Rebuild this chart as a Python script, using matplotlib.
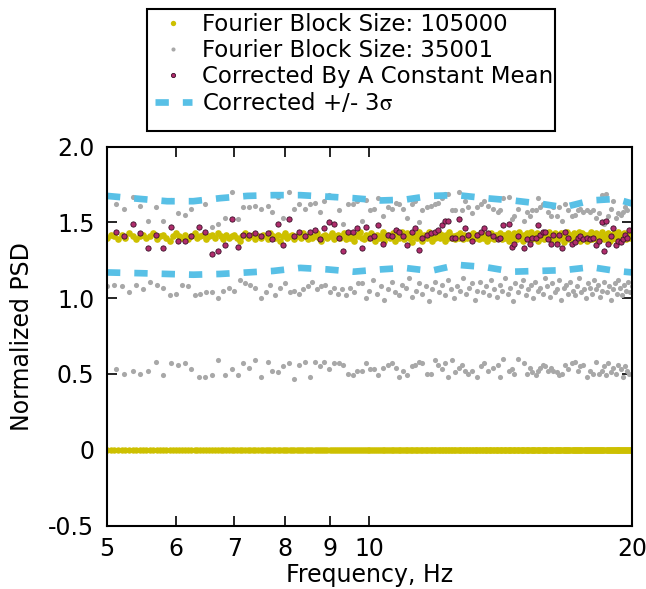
import matplotlib
matplotlib.use('Agg')
import matplotlib.pyplot as plt
from matplotlib.patches import Rectangle

plt.rcParams['font.family'] = ['DejaVu Sans']
plt.rcParams['mathtext.fontset'] = 'stix'

# frequency grid (Hz) of the 105000 block series
freq_y = [5.00, 5.05, 5.10, 5.15, 5.20, 5.25, 5.30, 5.35, 5.40, 5.45,
          5.50, 5.55, 5.60, 5.65, 5.70, 5.75, 5.80, 5.85, 5.90, 5.95,
          6.00, 6.05, 6.10, 6.15, 6.20, 6.25, 6.30, 6.35, 6.40, 6.45,
          6.50, 6.55, 6.60, 6.65, 6.70, 6.75, 6.80, 6.85, 6.90, 6.95,
          7.00, 7.05, 7.10, 7.15, 7.20, 7.25, 7.30, 7.35, 7.40, 7.45,
          7.50, 7.55, 7.60, 7.65, 7.70, 7.75, 7.80, 7.85, 7.90, 7.95,
          8.00, 8.05, 8.10, 8.15, 8.20, 8.25, 8.30, 8.35, 8.40, 8.45,
          8.50, 8.55, 8.60, 8.65, 8.70, 8.75, 8.80, 8.85, 8.90, 8.95,
          9.00, 9.05, 9.10, 9.15, 9.20, 9.25, 9.30, 9.35, 9.40, 9.45,
          9.50, 9.55, 9.60, 9.65, 9.70, 9.75, 9.80, 9.85, 9.90, 9.95,
          10.00, 10.05, 10.10, 10.15, 10.20, 10.25, 10.30, 10.35, 10.40, 10.45,
          10.50, 10.55, 10.60, 10.65, 10.70, 10.75, 10.80, 10.85, 10.90, 10.95,
          11.00, 11.05, 11.10, 11.15, 11.20, 11.25, 11.30, 11.35, 11.40, 11.45,
          11.50, 11.55, 11.60, 11.65, 11.70, 11.75, 11.80, 11.85, 11.90, 11.95,
          12.00, 12.05, 12.10, 12.15, 12.20, 12.25, 12.30, 12.35, 12.40, 12.45,
          12.50, 12.55, 12.60, 12.65, 12.70, 12.75, 12.80, 12.85, 12.90, 12.95,
          13.00, 13.05, 13.10, 13.15, 13.20, 13.25, 13.30, 13.35, 13.40, 13.45,
          13.50, 13.55, 13.60, 13.65, 13.70, 13.75, 13.80, 13.85, 13.90, 13.95,
          14.00, 14.05, 14.10, 14.15, 14.20, 14.25, 14.30, 14.35, 14.40, 14.45,
          14.50, 14.55, 14.60, 14.65, 14.70, 14.75, 14.80, 14.85, 14.90, 14.95,
          15.00, 15.05, 15.10, 15.15, 15.20, 15.25, 15.30, 15.35, 15.40, 15.45,
          15.50, 15.55, 15.60, 15.65, 15.70, 15.75, 15.80, 15.85, 15.90, 15.95,
          16.00, 16.05, 16.10, 16.15, 16.20, 16.25, 16.30, 16.35, 16.40, 16.45,
          16.50, 16.55, 16.60, 16.65, 16.70, 16.75, 16.80, 16.85, 16.90, 16.95,
          17.00, 17.05, 17.10, 17.15, 17.20, 17.25, 17.30, 17.35, 17.40, 17.45,
          17.50, 17.55, 17.60, 17.65, 17.70, 17.75, 17.80, 17.85, 17.90, 17.95,
          18.00, 18.05, 18.10, 18.15, 18.20, 18.25, 18.30, 18.35, 18.40, 18.45,
          18.50, 18.55, 18.60, 18.65, 18.70, 18.75, 18.80, 18.85, 18.90, 18.95,
          19.00, 19.05, 19.10, 19.15, 19.20, 19.25, 19.30, 19.35, 19.40, 19.45,
          19.50, 19.55, 19.60, 19.65, 19.70, 19.75, 19.80, 19.85, 19.90, 19.95,
          20.00]

# block size 105000: upper band and zero band
yellow_hi = [1.40, 1.42, 1.41, 1.39, 1.42, 1.40, 1.43, 1.41, 1.39, 1.41,
             1.42, 1.40, 1.41, 1.43, 1.39, 1.41, 1.42, 1.40, 1.38, 1.41,
             1.43, 1.41, 1.40, 1.42, 1.39, 1.41, 1.43, 1.40, 1.41, 1.42,
             1.39, 1.41, 1.42, 1.40, 1.43, 1.41, 1.39, 1.42, 1.40, 1.41,
             1.42, 1.40, 1.38, 1.41, 1.43, 1.40, 1.41, 1.42, 1.39, 1.41,
             1.40, 1.42, 1.41, 1.39, 1.43, 1.41, 1.40, 1.42, 1.38, 1.41,
             1.43, 1.40, 1.41, 1.42, 1.39, 1.41, 1.42, 1.40, 1.43, 1.41,
             1.39, 1.42, 1.40, 1.41, 1.43, 1.40, 1.38, 1.41, 1.42, 1.40,
             1.41, 1.43, 1.39, 1.41, 1.42, 1.40, 1.41, 1.43, 1.39, 1.42,
             1.40, 1.41, 1.38, 1.42, 1.41, 1.44, 1.40, 1.39, 1.42, 1.41,
             1.40, 1.43, 1.41, 1.38, 1.42, 1.40, 1.41, 1.44, 1.38, 1.41,
             1.42, 1.40, 1.41, 1.43, 1.38, 1.42, 1.40, 1.41, 1.44, 1.39,
             1.41, 1.43, 1.40, 1.42, 1.37, 1.41, 1.42, 1.40, 1.44, 1.41,
             1.38, 1.42, 1.41, 1.40, 1.44, 1.41, 1.38, 1.42, 1.40, 1.41,
             1.43, 1.40, 1.42, 1.41, 1.38, 1.42, 1.40, 1.44, 1.41, 1.40,
             1.41, 1.39, 1.42, 1.40, 1.43, 1.41, 1.39, 1.42, 1.41, 1.40,
             1.42, 1.41, 1.39, 1.43, 1.40, 1.41, 1.42, 1.39, 1.41, 1.43,
             1.40, 1.42, 1.41, 1.38, 1.42, 1.40, 1.43, 1.41, 1.39, 1.42,
             1.41, 1.40, 1.43, 1.41, 1.39, 1.42, 1.40, 1.41, 1.43, 1.38,
             1.42, 1.41, 1.40, 1.43, 1.41, 1.39, 1.42, 1.44, 1.40, 1.41,
             1.38, 1.42, 1.41, 1.43, 1.40, 1.41, 1.44, 1.39, 1.42, 1.40,
             1.41, 1.43, 1.38, 1.42, 1.40, 1.41, 1.43, 1.39, 1.42, 1.41,
             1.40, 1.44, 1.41, 1.39, 1.42, 1.40, 1.43, 1.41, 1.38, 1.42,
             1.41, 1.40, 1.43, 1.41, 1.37, 1.42, 1.40, 1.44, 1.41, 1.39,
             1.42, 1.41, 1.40, 1.43, 1.39, 1.41, 1.42, 1.40, 1.44, 1.38,
             1.41, 1.43, 1.40, 1.42, 1.41, 1.38, 1.42, 1.41, 1.40, 1.44,
             1.39, 1.41, 1.42, 1.40, 1.43, 1.41, 1.38, 1.42, 1.41, 1.40,
             1.44, 1.41, 1.39, 1.42, 1.40, 1.43, 1.41, 1.38, 1.42, 1.41,
             1.40, 1.43, 1.41, 1.39, 1.42, 1.44, 1.40, 1.41, 1.38, 1.42,
             1.41, 1.40, 1.43, 1.41, 1.39, 1.42, 1.40, 1.44, 1.41, 1.40,
             1.42]
yellow_zero = [0.0] * len(freq_y)

# block size 35001: middle band on a 0.1 Hz grid
freq_a = [5.0, 5.1, 5.2, 5.3, 5.4, 5.5, 5.6, 5.7, 5.8, 5.9,
          6.0, 6.1, 6.2, 6.3, 6.4, 6.5, 6.6, 6.7, 6.8, 6.9,
          7.0, 7.1, 7.2, 7.3, 7.4, 7.5, 7.6, 7.7, 7.8, 7.9,
          8.0, 8.1, 8.2, 8.3, 8.4, 8.5, 8.6, 8.7, 8.8, 8.9,
          9.0, 9.1, 9.2, 9.3, 9.4, 9.5, 9.6, 9.7, 9.8, 9.9,
          10.0, 10.1, 10.2, 10.3, 10.4, 10.5, 10.6, 10.7, 10.8, 10.9,
          11.0, 11.1, 11.2, 11.3, 11.4, 11.5, 11.6, 11.7, 11.8, 11.9,
          12.0, 12.1, 12.2, 12.3, 12.4, 12.5, 12.6, 12.7, 12.8, 12.9,
          13.0, 13.1, 13.2, 13.3, 13.4, 13.5, 13.6, 13.7, 13.8, 13.9,
          14.0, 14.1, 14.2, 14.3, 14.4, 14.5, 14.6, 14.7, 14.8, 14.9,
          15.0, 15.1, 15.2, 15.3, 15.4, 15.5, 15.6, 15.7, 15.8, 15.9,
          16.0, 16.1, 16.2, 16.3, 16.4, 16.5, 16.6, 16.7, 16.8, 16.9,
          17.0, 17.1, 17.2, 17.3, 17.4, 17.5, 17.6, 17.7, 17.8, 17.9,
          18.0, 18.1, 18.2, 18.3, 18.4, 18.5, 18.6, 18.7, 18.8, 18.9,
          19.0, 19.1, 19.2, 19.3, 19.4, 19.5, 19.6, 19.7, 19.8, 19.9,
          20.0]

gray_mid = [1.08, 1.09, 1.08, 1.04, 1.09, 1.06, 1.11, 1.09, 1.07, 1.02,
            1.03, 1.09, 1.08, 1.02, 1.03, 1.04, 1.04, 1.00, 1.05, 1.07,
            1.05, 1.12, 1.10, 1.09, 1.07, 1.00, 1.04, 1.09, 1.02, 1.07,
            1.10, 1.04, 1.05, 1.03, 1.06, 1.08, 1.11, 1.06, 1.08, 1.09,
            1.04, 1.07, 1.03, 1.06, 1.02, 1.07, 1.04, 1.10, 1.10, 1.00,
            1.05, 1.12, 1.03, 1.08, 0.99, 1.06, 1.11, 1.04, 1.02, 1.09,
            1.07, 1.13, 1.01, 1.05, 1.10, 1.03, 1.08, 0.98, 1.06, 1.11,
            1.04, 1.09, 1.02, 1.12, 1.06, 1.00, 1.08, 1.05, 1.13, 1.03,
            1.07, 1.10, 0.99, 1.05, 1.11, 1.04, 1.08, 1.02, 1.12, 1.06,
            1.01, 1.09, 1.05, 1.13, 1.03, 1.07, 0.98, 1.10, 1.04, 1.08,
            1.12, 1.02, 1.06, 1.09, 1.00, 1.11, 1.05, 1.07, 1.03, 1.13,
            1.08, 1.01, 1.10, 1.04, 1.06, 1.12, 0.99, 1.07, 1.09, 1.03,
            1.11, 1.05, 1.02, 1.08, 1.13, 1.04, 1.06, 1.00, 1.10, 1.07,
            1.03, 1.12, 1.06, 1.09, 1.01, 1.05, 1.11, 1.04, 1.08, 0.99,
            1.06, 1.10, 1.03, 1.12, 1.07, 1.02, 1.09, 1.05, 1.11, 1.04,
            1.08]

# frequencies of the corrected points (also upper/lower 35001 bands)
freq_c = [5.12, 5.23, 5.35, 5.46, 5.57, 5.69, 5.80, 5.92, 6.03, 6.14,
          6.25, 6.37, 6.48, 6.59, 6.71, 6.83, 6.95, 7.07, 7.17, 7.28,
          7.39, 7.51, 7.64, 7.74, 7.85, 7.96, 8.08, 8.20, 8.31, 8.43,
          8.55, 8.66, 8.77, 8.88, 8.99, 9.11, 9.23, 9.33, 9.46, 9.58,
          9.68, 9.80, 9.90, 10.01, 10.13, 10.24, 10.37, 10.49, 10.60, 10.73,
          10.82, 10.93, 11.05, 11.18, 11.28, 11.41, 11.50, 11.63, 11.76, 11.89,
          11.97, 12.10, 12.21, 12.29, 12.42, 12.53, 12.68, 12.76, 12.87, 12.98,
          13.10, 13.27, 13.41, 13.54, 13.69, 13.87, 14.03, 14.12, 14.24, 14.45,
          14.56, 14.66, 14.81, 15.05, 15.15, 15.28, 15.37, 15.51, 15.62, 15.69,
          15.82, 15.90, 16.03, 16.15, 16.25, 16.39, 16.49, 16.61, 16.76, 16.88,
          17.06, 17.21, 17.33, 17.45, 17.59, 17.75, 17.90, 18.03, 18.19, 18.35,
          18.46, 18.59, 18.67, 18.79, 18.92, 19.04, 19.16, 19.29, 19.43, 19.55,
          19.63, 19.72, 19.84]

gray_up = [1.62, 1.59, 1.67, 1.61, 1.51, 1.60, 1.51, 1.65, 1.56, 1.55,
           1.59, 1.65, 1.62, 1.47, 1.49, 1.53, 1.70, 1.52, 1.60, 1.60,
           1.61, 1.59, 1.61, 1.57, 1.67, 1.53, 1.70, 1.59, 1.62, 1.59,
           1.62, 1.63, 1.57, 1.64, 1.68, 1.67, 1.58, 1.49, 1.62, 1.62,
           1.64, 1.51, 1.65, 1.58, 1.59, 1.66, 1.54, 1.60, 1.59, 1.63,
           1.62, 1.59, 1.53, 1.62, 1.64, 1.50, 1.58, 1.60, 1.61, 1.62,
           1.63, 1.66, 1.69, 1.69, 1.58, 1.58, 1.70, 1.58, 1.64, 1.60,
           1.56, 1.60, 1.62, 1.64, 1.61, 1.59, 1.57, 1.58, 1.66, 1.67,
           1.52, 1.54, 1.59, 1.51, 1.57, 1.54, 1.58, 1.58, 1.66, 1.60,
           1.62, 1.62, 1.57, 1.54, 1.60, 1.54, 1.60, 1.51, 1.62, 1.58,
           1.54, 1.55, 1.58, 1.59, 1.57, 1.58, 1.57, 1.58, 1.53, 1.56,
           1.68, 1.49, 1.69, 1.54, 1.59, 1.64, 1.53, 1.56, 1.55, 1.57,
           1.60, 1.58, 1.63]

gray_low = [0.53, 0.50, 0.52, 0.50, 0.52, 0.58, 0.49, 0.57, 0.56, 0.57,
            0.53, 0.48, 0.48, 0.49, 0.59, 0.49, 0.53, 0.49, 0.57, 0.54,
            0.59, 0.48, 0.58, 0.52, 0.51, 0.55, 0.57, 0.47, 0.56, 0.58,
            0.48, 0.58, 0.55, 0.58, 0.53, 0.57, 0.57, 0.56, 0.50, 0.49,
            0.52, 0.52, 0.57, 0.53, 0.53, 0.49, 0.54, 0.56, 0.57, 0.54,
            0.48, 0.52, 0.49, 0.55, 0.56, 0.58, 0.57, 0.50, 0.50, 0.59,
            0.56, 0.53, 0.57, 0.48, 0.59, 0.51, 0.54, 0.56, 0.52, 0.50,
            0.52, 0.48, 0.55, 0.57, 0.52, 0.54, 0.56, 0.48, 0.60, 0.52,
            0.53, 0.50, 0.60, 0.57, 0.50, 0.54, 0.51, 0.49, 0.52, 0.54,
            0.56, 0.55, 0.52, 0.54, 0.52, 0.51, 0.49, 0.50, 0.56, 0.53,
            0.57, 0.58, 0.52, 0.55, 0.56, 0.48, 0.52, 0.50, 0.58, 0.50,
            0.52, 0.55, 0.49, 0.57, 0.51, 0.54, 0.50, 0.56, 0.53, 0.48,
            0.55, 0.52, 0.50]

purple = [1.44, 1.41, 1.49, 1.43, 1.33, 1.42, 1.33, 1.47, 1.38, 1.38,
          1.41, 1.47, 1.44, 1.29, 1.31, 1.35, 1.52, 1.34, 1.42, 1.42,
          1.43, 1.41, 1.43, 1.39, 1.49, 1.35, 1.52, 1.41, 1.44, 1.41,
          1.44, 1.45, 1.39, 1.46, 1.50, 1.49, 1.40, 1.31, 1.44, 1.44,
          1.46, 1.33, 1.47, 1.40, 1.41, 1.48, 1.36, 1.42, 1.41, 1.45,
          1.44, 1.41, 1.35, 1.44, 1.46, 1.32, 1.40, 1.42, 1.43, 1.44,
          1.45, 1.48, 1.51, 1.51, 1.40, 1.40, 1.52, 1.40, 1.46, 1.42,
          1.38, 1.42, 1.44, 1.46, 1.43, 1.41, 1.39, 1.40, 1.48, 1.49,
          1.34, 1.36, 1.41, 1.33, 1.39, 1.36, 1.40, 1.40, 1.48, 1.42,
          1.44, 1.44, 1.39, 1.36, 1.42, 1.36, 1.42, 1.33, 1.44, 1.40,
          1.36, 1.37, 1.40, 1.41, 1.39, 1.40, 1.39, 1.40, 1.35, 1.38,
          1.50, 1.31, 1.51, 1.36, 1.41, 1.46, 1.35, 1.38, 1.37, 1.39,
          1.42, 1.40, 1.45]

# +/- 3 sigma envelope of the corrected points
freq_s = [5.0, 5.46, 5.86, 6.28, 6.74, 7.24, 7.76, 8.33, 8.95, 9.59,
          10.30, 10.97, 11.75, 12.62, 13.59, 14.60, 15.64, 16.71, 17.95, 19.17, 20.0]
sigma_up = [1.675, 1.655, 1.64, 1.64, 1.66, 1.675, 1.68, 1.68, 1.67, 1.66,
            1.645, 1.65, 1.675, 1.68, 1.66, 1.645, 1.625, 1.60, 1.645, 1.655, 1.625]
sigma_lo = [1.17, 1.165, 1.16, 1.155, 1.16, 1.17, 1.18, 1.20, 1.19, 1.175,
            1.19, 1.20, 1.18, 1.22, 1.205, 1.175, 1.18, 1.185, 1.205, 1.18, 1.17]

xticks = [5, 6, 7, 8, 9, 10, 20]
xticklabels = ['5', '6', '7', '8', '9', '10', '20']
yticks = [-0.5, 0, 0.5, 1.0, 1.5, 2.0]
yticklabels = ['-0.5', '0', '0.5', '1.0', '1.5', '2.0']

c_yellow = '#cdc000'
c_gray = '#a8a8a8'
c_purple = '#b02c6c'
c_blue = '#58c0e6'

fig = plt.figure(figsize=(6.46, 5.89), dpi=100)
ax = fig.add_axes([0.1656, 0.1078, 0.8127, 0.6432])

h1, = ax.plot(freq_y, yellow_hi, 'o', color=c_yellow, ms=4.8, mew=0,
              label='Fourier Block Size: 105000')
ax.plot(freq_y, yellow_zero, 'o', color=c_yellow, ms=4.6, mew=0)

h2, = ax.plot(freq_a, gray_mid, 'o', color=c_gray, ms=3.7, mew=0,
              label='Fourier Block Size: 35001')
ax.plot(freq_c, gray_up, 'o', color=c_gray, ms=3.7, mew=0)
ax.plot(freq_c, gray_low, 'o', color=c_gray, ms=3.7, mew=0)

h3, = ax.plot(freq_c, purple, 'o', color=c_purple, ms=3.8, mec='#3a1028',
              mew=0.6, label='Corrected By A Constant Mean')

h4, = ax.plot(freq_s, sigma_up, color=c_blue, lw=4.8, dashes=(2.0, 2.1),
              label=r'Corrected +/- 3$\mathrm{\sigma}$')
ax.plot(freq_s, sigma_lo, color=c_blue, lw=4.8, dashes=(2.0, 2.1))

ax.set_xscale('log')
ax.set_xlim(5, 20)
ax.set_ylim(-0.5, 2.0)
ax.set_xticks(xticks, labels=xticklabels)
ax.minorticks_off()
ax.set_yticks(yticks, labels=yticklabels)
ax.tick_params(which='both', direction='in', top=True, right=True,
               length=7, width=1.2, labelsize=17)
ax.tick_params(axis='x', pad=8)
ax.tick_params(axis='y', pad=9)
for s in ax.spines.values():
    s.set_linewidth(1.5)

ax.set_xlabel('Frequency, Hz', fontsize=17, labelpad=2)
ax.set_ylabel('Normalized PSD', fontsize=17, labelpad=10)

fig.legend(handles=[h1, h2, h3, h4], loc='upper left',
           bbox_to_anchor=(155 / 646, 1 - 13 / 589), frameon=False,
           fontsize=16.5, borderpad=0, borderaxespad=0, labelspacing=0.13,
           handlelength=1.6, handletextpad=0.45, markerscale=0.8, numpoints=1)
fig.add_artist(Rectangle((147 / 646, 1 - 131 / 589), 408 / 646, 122 / 589,
                         transform=fig.transFigure, fill=False,
                         edgecolor='black', linewidth=1.5))

fig.savefig('out.png', dpi=100)
